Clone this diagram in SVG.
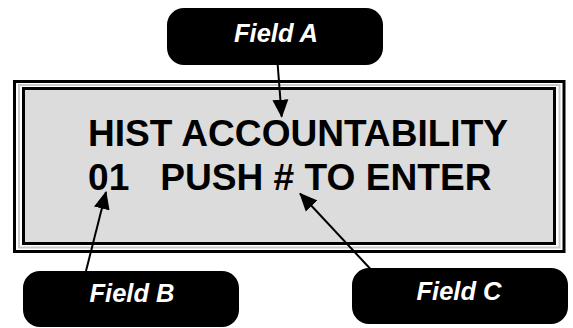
<svg xmlns="http://www.w3.org/2000/svg" width="573" height="328" viewBox="0 0 573 328">
<style>
.lcd{font-family:"Liberation Sans",Arial,sans-serif;font-weight:bold;font-size:37.5px;fill:#000;white-space:pre}
.tag{fill:#000}
.tagt{font-family:"Liberation Sans",Arial,sans-serif;font-weight:bold;font-style:italic;font-size:25.5px;fill:#fff;text-anchor:middle}
.conn{stroke:#000;stroke-width:2;fill:none}
</style>
<defs>
<marker id="ah" markerUnits="userSpaceOnUse" markerWidth="18" markerHeight="17" refX="17" refY="8" orient="auto" viewBox="0 0 18 16">
<path d="M0,0 L18,8 L0,16 Z" fill="#000"/>
</marker>
</defs>
<rect width="573" height="328" fill="#fff"/>
<g id="display">
<rect x="14.5" y="81.5" width="549.5" height="170" fill="#fff" stroke="#000" stroke-width="3"/>
<rect x="19" y="85" width="540.5" height="162.5" fill="none" stroke="#c8c8c8" stroke-width="2"/>
<rect x="23.5" y="88.5" width="531" height="155" fill="#dcdcdc" stroke="#000" stroke-width="3"/>
<text class="lcd" x="88" y="146" textLength="420" lengthAdjust="spacingAndGlyphs">HIST ACCOUNTABILITY</text>
<text class="lcd" x="88" y="190" textLength="403.5" lengthAdjust="spacingAndGlyphs">01   PUSH # TO ENTER</text>
</g>
<g id="fieldA">
<rect class="tag" x="167" y="8" width="216" height="57" rx="17"/>
<text class="tagt" x="276" y="42">Field A</text>
</g>
<g id="fieldB">
<rect class="tag" x="23" y="271" width="216" height="56" rx="17"/>
<text class="tagt" x="132" y="302">Field B</text>
</g>
<g id="fieldC">
<rect class="tag" x="352" y="268" width="216" height="56" rx="17"/>
<text class="tagt" x="459" y="300">Field C</text>
</g>
<g id="connectors">
<line class="conn" x1="277.7" y1="65" x2="281.7" y2="116.7" marker-end="url(#ah)"/>
<line class="conn" x1="86" y1="271" x2="106" y2="192" marker-end="url(#ah)"/>
<line class="conn" x1="370" y1="268.5" x2="300" y2="193.5" marker-end="url(#ah)"/>
</g>
</svg>
